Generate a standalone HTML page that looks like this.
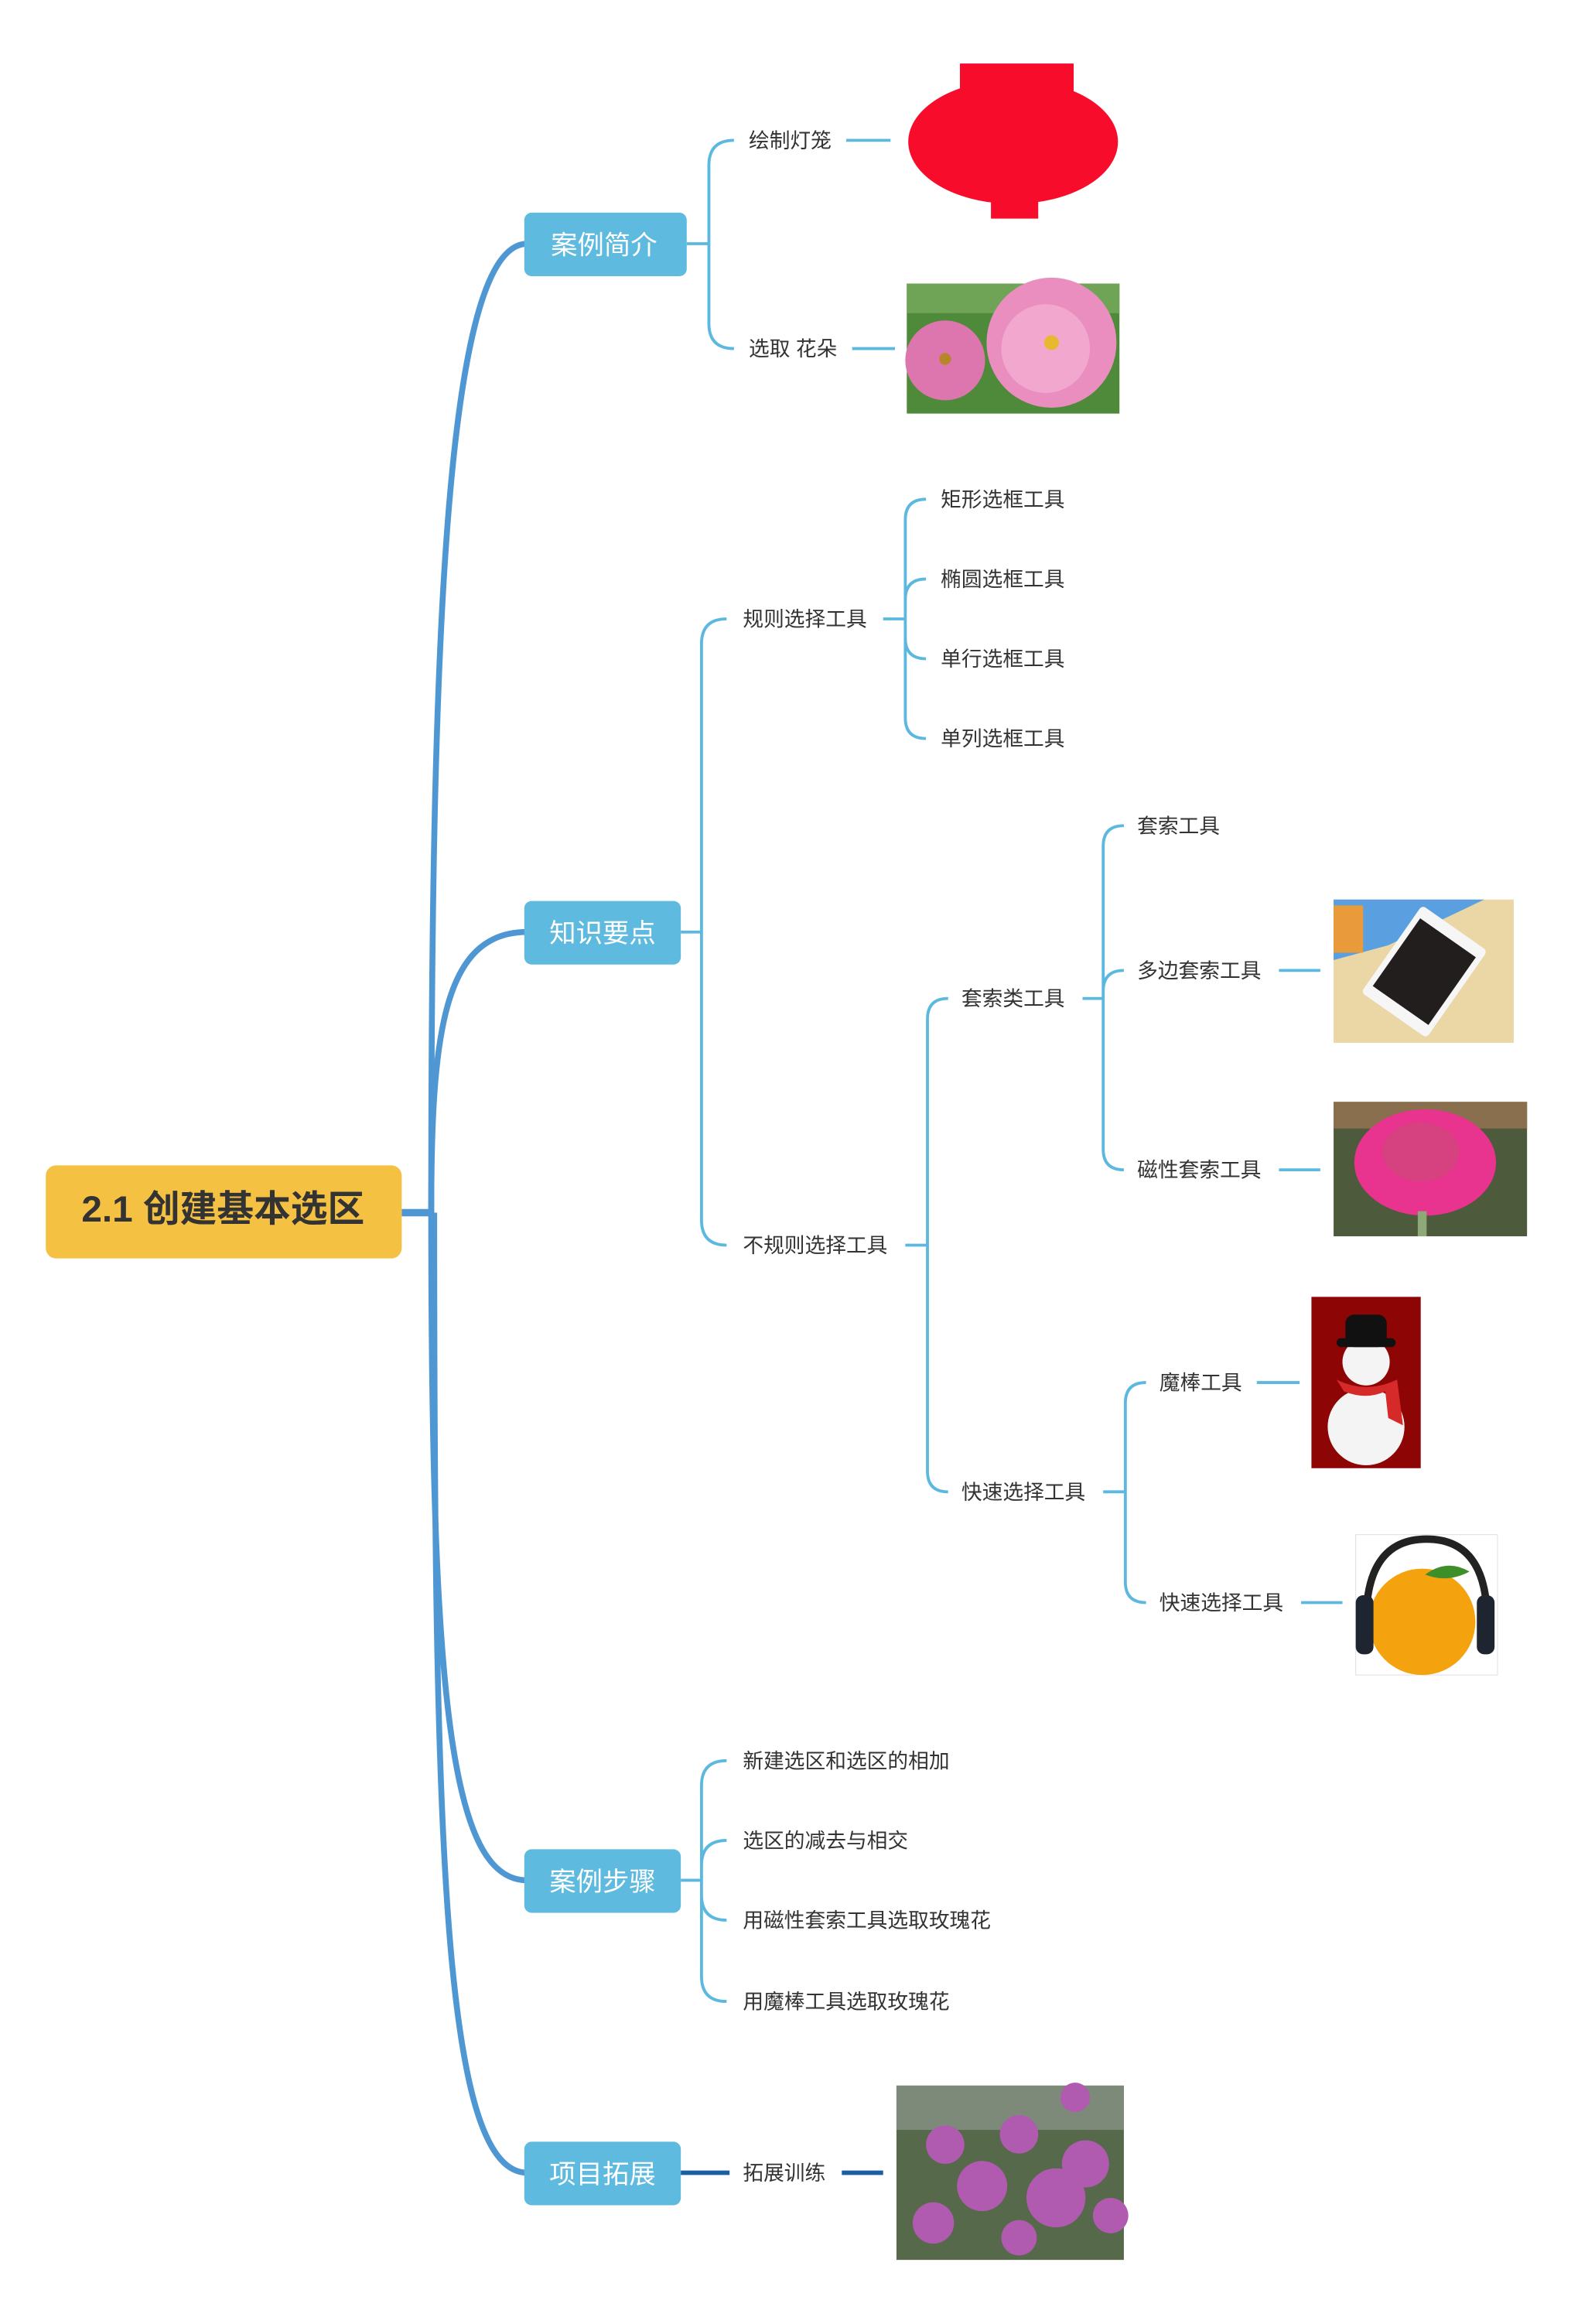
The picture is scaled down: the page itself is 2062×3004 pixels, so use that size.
<!DOCTYPE html>
<html><head><meta charset="utf-8"><style>
html,body{margin:0;padding:0;background:#fff;}
svg{display:block;}
text{font-family:"Liberation Sans","Noto Sans CJK SC",sans-serif;}
.c{font-size:14px;fill:#333;}
.b{font-size:18px;fill:#fff;}
.l{fill:none;stroke:#5DB8DF;stroke-width:2;}
.m{fill:none;stroke:#4E97D3;}
</style></head><body>
<svg width="2062" height="3004" viewBox="0 0 1080 1573.4" xmlns="http://www.w3.org/2000/svg">
<!-- trunk -->
<path class="m" stroke-width="5" d="M272 821 H294"/>
<path class="m" stroke-width="4" d="M292 821 C292 450 300 165 357 165"/>
<path class="m" stroke-width="4" d="M292 821 C292 700 300 631 357 631"/>
<path class="m" stroke-width="4" d="M292 821 C292 1150 305 1273 357 1273"/>
<path class="m" stroke-width="4" d="M294 821 C294 1250 300 1471 357 1471"/>
<!-- root -->
<rect x="31" y="789" width="241" height="63" rx="7" fill="#F5C142"/>
<text x="151" y="827" text-anchor="middle" font-size="25" font-weight="bold" fill="#333">2.1 创建基本选区</text>
<!-- branch boxes -->
<rect x="355" y="144" width="110" height="43" rx="5" fill="#5EBADF"/>
<text x="409" y="172" text-anchor="middle" class="b">案例简介</text>
<rect x="355" y="610" width="106" height="43" rx="5" fill="#5EBADF"/>
<text x="408" y="638" text-anchor="middle" class="b">知识要点</text>
<rect x="355" y="1252" width="106" height="43" rx="5" fill="#5EBADF"/>
<text x="408" y="1280" text-anchor="middle" class="b">案例步骤</text>
<rect x="355" y="1450" width="106" height="43" rx="5" fill="#5EBADF"/>
<text x="408" y="1478" text-anchor="middle" class="b">项目拓展</text>

<!-- branch 1 -->
<path class="l" stroke-width="3" d="M465 165 H480"/>
<path class="l" d="M497 95 Q480 95 480 112 V219 Q480 236 497 236"/>
<text x="507" y="100" class="c">绘制灯笼</text>
<text x="507" y="241" class="c">选取 花朵</text>
<path class="l" stroke-width="2.5" d="M573 95 H603 M577 236 H606"/>
<!-- lantern -->
<rect x="650" y="43" width="77" height="30" fill="#F80C2B"/>
<ellipse cx="686" cy="96" rx="71" ry="42" fill="#F80C2B"/>
<rect x="671" y="128" width="32" height="20" fill="#F80C2B"/>
<!-- peony -->
<rect x="614" y="192" width="144" height="88" fill="#4E8A3A"/>
<rect x="614" y="192" width="144" height="20" fill="#6FA356"/>
<circle cx="712" cy="232" r="44" fill="#E98EBF"/>
<circle cx="708" cy="236" r="30" fill="#F2A8CE"/>
<circle cx="640" cy="244" r="27" fill="#DD76AE"/>
<circle cx="712" cy="232" r="5" fill="#E8B830"/>
<circle cx="640" cy="243" r="4" fill="#B8862A"/>

<!-- branch 2 -->
<path class="l" stroke-width="3" d="M461 631 H475"/>
<path class="l" d="M492 419 Q475 419 475 436 V826 Q475 843 492 843"/>
<text x="503" y="424" class="c">规则选择工具</text>
<text x="503" y="848" class="c">不规则选择工具</text>
<path class="l" stroke-width="2.5" d="M598 419 H613"/>
<path class="l" d="M627 338 Q613 338 613 352 V486 Q613 500 627 500 M613 392 Q613 392 613 392"/>
<path class="l" d="M627 392 Q613 392 613 406 M627 446 Q613 446 613 432"/>
<text x="637" y="343" class="c">矩形选框工具</text>
<text x="637" y="397" class="c">椭圆选框工具</text>
<text x="637" y="451" class="c">单行选框工具</text>
<text x="637" y="505" class="c">单列选框工具</text>

<path class="l" stroke-width="2.5" d="M613 843 H628"/>
<path class="l" d="M642 676 Q628 676 628 690 V996 Q628 1010 642 1010"/>
<text x="651" y="681" class="c">套索类工具</text>
<text x="651" y="1015" class="c">快速选择工具</text>

<path class="l" stroke-width="2.5" d="M733 676 H747"/>
<path class="l" d="M761 559 Q747 559 747 573 V778 Q747 792 761 792 M761 657 Q747 657 747 671"/>
<text x="770" y="564" class="c">套索工具</text>
<text x="770" y="662" class="c">多边套索工具</text>
<text x="770" y="797" class="c">磁性套索工具</text>
<path class="l" stroke-width="2.5" d="M866 657 H894 M866 792 H894"/>
<!-- tablet -->
<rect x="903" y="609" width="122" height="97" fill="#EBD6A6"/>
<polygon points="903,609 1005,609 940,640 903,650" fill="#5AA0E0"/>
<rect x="903" y="613" width="20" height="32" fill="#E99A3A"/>
<g transform="rotate(35 965 657)"><rect x="938" y="622" width="54" height="72" rx="3" fill="#F6F6F6"/><rect x="942" y="630" width="46" height="56" fill="#231E1E"/></g>
<!-- rose -->
<rect x="903" y="746" width="131" height="91" fill="#4E5A3C"/>
<rect x="903" y="746" width="131" height="18" fill="#8A6F4E"/>
<ellipse cx="965" cy="787" rx="48" ry="36" fill="#E8338F"/>
<ellipse cx="962" cy="780" rx="26" ry="20" fill="#D6417F"/>
<rect x="960" y="820" width="6" height="17" fill="#8FA878"/>

<path class="l" stroke-width="2.5" d="M747 1010 H762"/>
<path class="l" d="M776 936 Q762 936 762 950 V1071 Q762 1085 776 1085"/>
<text x="785" y="941" class="c">魔棒工具</text>
<text x="785" y="1090" class="c">快速选择工具</text>
<path class="l" stroke-width="2.5" d="M851 936 H880 M881 1085 H909"/>
<!-- snowman -->
<rect x="888" y="878" width="74" height="116" fill="#8E0505"/>
<circle cx="925" cy="966" r="26" fill="#F4F4F4"/>
<circle cx="925" cy="922" r="16" fill="#F4F4F4"/>
<rect x="911" y="890" width="28" height="22" rx="6" fill="#111"/>
<rect x="905" y="906" width="40" height="6" rx="3" fill="#111"/>
<path d="M905 934 Q925 944 946 934 L950 965 L940 960 L938 942 Q925 948 910 942 Z" fill="#D62A2A"/>
<!-- orange -->
<rect x="918" y="1039" width="96" height="95" fill="#fff" stroke="#ddd" stroke-width="0.5"/>
<circle cx="963" cy="1098" r="36" fill="#F5A20F"/>
<path d="M925 1098 Q925 1042 966 1042 Q1007 1042 1007 1098" fill="none" stroke="#222" stroke-width="5"/>
<rect x="918" y="1080" width="12" height="40" rx="5" fill="#1E2530"/>
<rect x="1000" y="1080" width="12" height="40" rx="5" fill="#1E2530"/>
<path d="M965 1066 Q980 1055 995 1064 Q980 1072 965 1066Z" fill="#3E8E2A"/>

<!-- branch 3 -->
<path class="l" stroke-width="3" d="M461 1273 H475"/>
<path class="l" d="M492 1192 Q475 1192 475 1209 V1338 Q475 1355 492 1355 M492 1246 Q475 1246 475 1263 M492 1300 Q475 1300 475 1283"/>
<text x="503" y="1197" class="c">新建选区和选区的相加</text>
<text x="503" y="1251" class="c">选区的减去与相交</text>
<text x="503" y="1305" class="c">用磁性套索工具选取玫瑰花</text>
<text x="503" y="1360" class="c">用魔棒工具选取玫瑰花</text>

<!-- branch 4 -->
<path fill="none" stroke="#1B5FA3" stroke-width="3" d="M461 1471 H494 M570 1471 H598"/>
<text x="503" y="1476" class="c">拓展训练</text>
<rect x="607" y="1412" width="154" height="118" fill="#56694A"/>
<rect x="607" y="1412" width="154" height="30" fill="#7D8A7A"/>
<g fill="#B05BB0">
<circle cx="640" cy="1452" r="13"/><circle cx="690" cy="1445" r="13"/><circle cx="735" cy="1465" r="16"/>
<circle cx="665" cy="1480" r="17"/><circle cx="715" cy="1488" r="20"/><circle cx="752" cy="1500" r="12"/>
<circle cx="632" cy="1505" r="14"/><circle cx="690" cy="1515" r="12"/><circle cx="728" cy="1420" r="10"/>
</g>
</svg>
</body></html>
